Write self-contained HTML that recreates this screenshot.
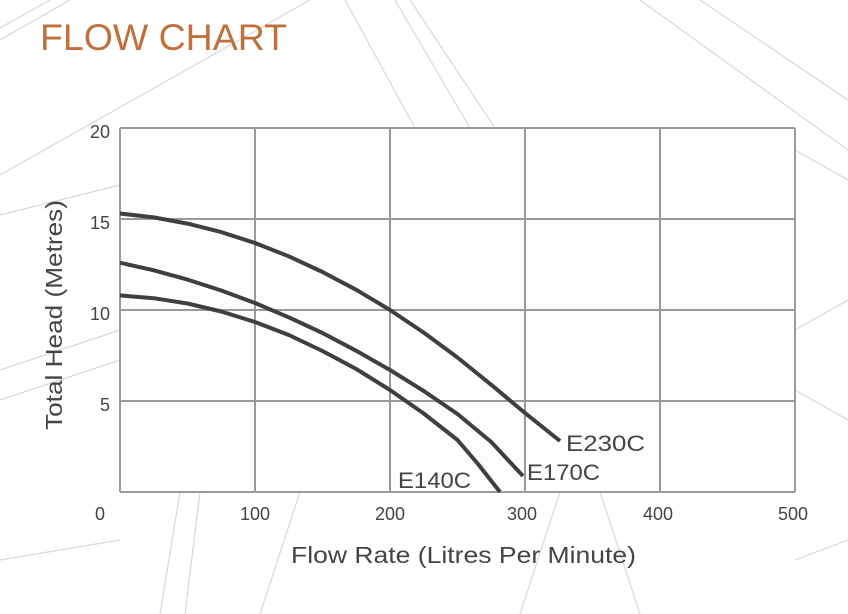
<!DOCTYPE html>
<html><head><style>
html,body{margin:0;padding:0;background:#fff;}
svg{display:block;font-family:"Liberation Sans",sans-serif;}
</style></head><body>
<svg width="848" height="614" viewBox="0 0 848 614" xmlns="http://www.w3.org/2000/svg">
<g stroke="#d8d8d8" stroke-width="1.2" fill="none">
<line x1="0" y1="175" x2="310" y2="0"/>
<line x1="0" y1="40" x2="70" y2="0"/>
<line x1="0" y1="28" x2="50" y2="0"/>
<line x1="345" y1="0" x2="415" y2="128"/>
<line x1="395" y1="0" x2="470" y2="128"/>
<line x1="410" y1="0" x2="495" y2="128"/>
<line x1="640" y1="0" x2="848" y2="150"/>
<line x1="700" y1="0" x2="848" y2="100"/>
<line x1="795" y1="150" x2="848" y2="180"/>
<line x1="795" y1="330" x2="848" y2="300"/>
<line x1="795" y1="390" x2="848" y2="420"/>
<line x1="0" y1="215" x2="120" y2="185"/>
<line x1="0" y1="370" x2="120" y2="330"/>
<line x1="0" y1="400" x2="120" y2="360"/>
<line x1="180" y1="492" x2="160" y2="614"/>
<line x1="200" y1="492" x2="185" y2="614"/>
<line x1="300" y1="492" x2="260" y2="614"/>
<line x1="560" y1="492" x2="520" y2="614"/>
<line x1="600" y1="492" x2="640" y2="614"/>
<line x1="0" y1="560" x2="120" y2="540"/>
<line x1="795" y1="560" x2="848" y2="540"/>
</g>
<rect x="120" y="128" width="675" height="364" fill="#fdfdfb"/>
<g stroke="#9a9a9a" stroke-width="2" fill="none">
<line x1="120" y1="128" x2="120" y2="492"/>
<line x1="255" y1="128" x2="255" y2="492"/>
<line x1="390" y1="128" x2="390" y2="492"/>
<line x1="525" y1="128" x2="525" y2="492"/>
<line x1="660" y1="128" x2="660" y2="492"/>
<line x1="795" y1="128" x2="795" y2="492"/>
<line x1="120" y1="128" x2="795" y2="128"/>
<line x1="120" y1="219" x2="795" y2="219"/>
<line x1="120" y1="310" x2="795" y2="310"/>
<line x1="120" y1="401" x2="795" y2="401"/>
<line x1="120" y1="492" x2="795" y2="492"/>
</g>
<g stroke="#3f3f3f" stroke-width="4" fill="none" stroke-linejoin="round" stroke-linecap="butt">
<polyline points="120,213.5 153.75,217.4 187.5,223.6 221.25,232.1 255,243 288.75,256.3 322.5,272 356.25,289.8 390,310 423.75,332.6 457.5,357.5 491.25,384.8 525,413 560,441"/>
<polyline points="120,262.7 153.75,270.3 187.5,279.6 221.25,290.5 255,303 288.75,317.3 322.5,333 356.25,350.8 390,370 423.75,391 457.5,414 491.25,442 523,476"/>
<polyline points="120,295.4 153.75,298.2 187.5,303.5 221.25,311.5 255,322 288.75,335 322.5,351 356.25,369 390,390 423.75,413.5 457.5,440 478,464 500,492"/>
</g>
<g fill="#444" font-size="22">
<text x="566" y="451" textLength="79" lengthAdjust="spacingAndGlyphs">E230C</text>
<text x="527" y="480" textLength="73" lengthAdjust="spacingAndGlyphs">E170C</text>
<text x="398" y="488" textLength="73" lengthAdjust="spacingAndGlyphs">E140C</text>
</g>
<g fill="#444" font-size="18" text-anchor="end">
<text x="110" y="138">20</text>
<text x="110" y="229">15</text>
<text x="110" y="320">10</text>
<text x="110" y="411">5</text>
</g>
<g fill="#444" font-size="18" text-anchor="middle">
<text x="100" y="520">0</text>
<text x="255" y="520">100</text>
<text x="390" y="520">200</text>
<text x="522" y="520">300</text>
<text x="658" y="520">400</text>
<text x="793" y="520">500</text>
</g>
<text x="291" y="563" fill="#444" font-size="23" textLength="345" lengthAdjust="spacingAndGlyphs">Flow Rate (Litres Per Minute)</text>
<text transform="translate(62,430) rotate(-90)" fill="#444" font-size="23" textLength="230" lengthAdjust="spacingAndGlyphs">Total Head (Metres)</text>
<text x="40" y="50" fill="#c0703a" font-size="37" textLength="247" lengthAdjust="spacingAndGlyphs">FLOW CHART</text>
</svg>
</body></html>
